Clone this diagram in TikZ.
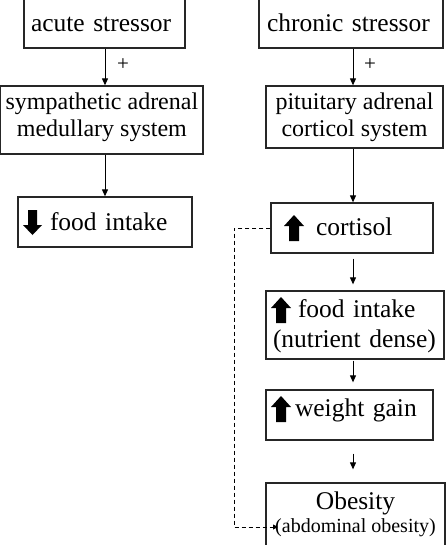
\documentclass[tikz,border=0pt]{standalone}
\usepackage{fontspec}
\setmainfont{Liberation Serif}
\usetikzlibrary{arrows.meta}
\newcommand{\blkup}{\tikz[x=1pt,y=1pt,baseline=6pt]\fill[black] (5,0)--(15,0)--(15,15)--(20,15)--(10,26)--(0,15)--(5,15)--cycle;}
\newcommand{\blkdown}{\tikz[x=1pt,y=1pt,baseline=5pt]\fill[black] (5,25)--(14,25)--(14,10)--(19,10)--(9.5,0)--(0,10)--(5,10)--cycle;}
\begin{document}
\begin{tikzpicture}[x=1pt,y=-1pt,
  box/.style={draw=black!85, line width=1.3pt, inner ysep=0pt, inner xsep=0pt,
    font=\fontsize{25.5}{30}\selectfont},
  smallbox/.style={box, font=\fontsize{24}{27}\selectfont, align=center},
  conn/.style={-{Triangle[length=7pt,width=6pt]}, line width=1pt, black},
  dashconn/.style={-{Triangle[length=5pt,width=5pt]}, line width=0.9pt, black,
    dash pattern=on 4pt off 3pt},
  plus/.style={font=\fontsize{21}{21}\selectfont, inner sep=0pt}]
\useasboundingbox (0,0) rectangle (445,545);
\fill[white] (0,0) rectangle (445,545);
% columns
\coordinate (colL) at (105,0);
\coordinate (colR) at (353,0);
\coordinate (dashx) at (234,0);
\coordinate (obtip) at (278,527);
% left column
\node[box, minimum width=161pt, minimum height=51pt, text height=25pt, text depth=6pt,
  inner xsep=7pt, text width=147pt, align=left] (A) at (104.5,22.5) {acute stressor};
\node[smallbox, minimum width=202.2pt, minimum height=68pt] (B) at (101.9,120)
  {\rule{0pt}{20pt}sympathetic adrenal\\medullary system\rule[-13pt]{0pt}{13pt}};
\node[box, minimum width=174pt, minimum height=50pt, text height=22pt, text depth=6pt,
  inner xsep=5pt, text width=164pt, align=left] (C) at (105,222) {\blkdown\hspace{8pt}food intake};
% right column
\node[box, minimum width=184pt, minimum height=51pt, text height=25pt, text depth=6pt,
  inner xsep=8pt, text width=168pt, align=left] (D) at (351,22.5) {chronic stressor};
\node[smallbox, minimum width=177pt, minimum height=62pt] (E) at (354.5,117)
  {\rule{0pt}{22pt}pituitary adrenal\\corticol system\rule[-9pt]{0pt}{9pt}};
\node[box, minimum width=162pt, minimum height=50pt, text height=20pt, text depth=6pt,
  inner xsep=13pt, text width=136pt, align=left] (F) at (352,228) {\blkup\hspace{12pt}cortisol};
\node[box, minimum width=178pt, minimum height=68pt, inner xsep=5pt, text width=168pt,
  align=left] (G) at (355,325)
  {\rule{0pt}{24pt}\blkup\hspace{7pt}food intake\\\hspace*{2pt}(nutrient dense)\rule[-10pt]{0pt}{10pt}};
\node[box, minimum width=167pt, minimum height=50pt, text height=8pt, text depth=6pt,
  inner xsep=5pt, text width=157pt, align=left] (H) at (349.5,415) {\blkup\hspace{4pt}weight gain};
\node[box, minimum width=179pt, minimum height=66pt, align=center,
  font=\fontsize{20}{23}\selectfont] (I) at (355.5,516)
  {{\fontsize{25.5}{23}\selectfont\rule{0pt}{20pt}Obesity}\\(abdominal obesity)\rule[-10pt]{0pt}{10pt}};
% plus signs
\node[plus] (p1) at (123,65) {+};
\node[plus] (p2) at (370,65) {+};
% connectors
\draw[conn] (A.south -| colL) -- (B.north -| colL);
\draw[conn] (B.south -| colL) -- (C.north -| colL);
\draw[conn] (D.south -| colR) -- (E.north -| colR);
\draw[conn] (E.south -| colR) -- (F.north -| colR);
\draw[conn, shorten <=5pt, shorten >=6pt] (F.south -| colR) -- (G.north -| colR);
\draw[conn, shorten <=1pt, shorten >=7pt] (G.south -| colR) -- (H.north -| colR);
\draw[conn, shorten <=13pt, shorten >=13pt] (H.south -| colR) -- (I.north -| colR);
\draw[dashconn] (F.west) -- (F.west -| dashx) |- (obtip);
\end{tikzpicture}
\end{document}
